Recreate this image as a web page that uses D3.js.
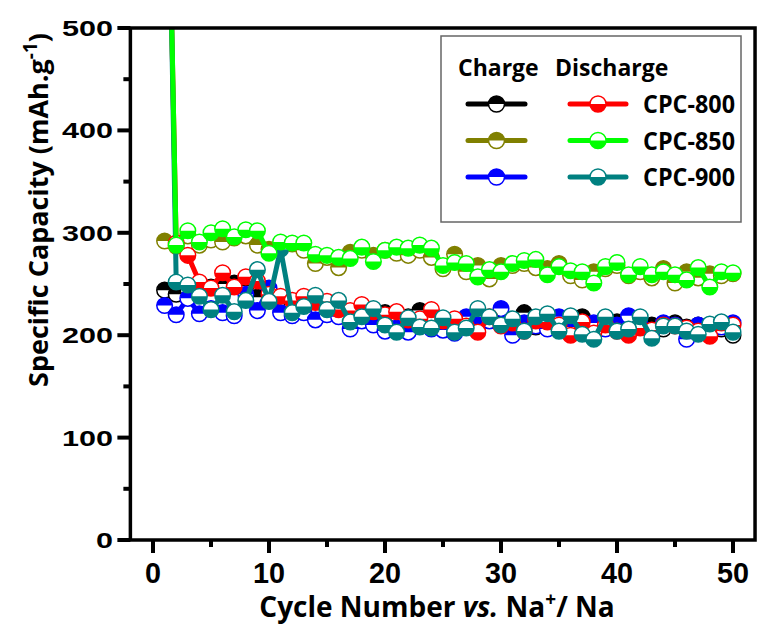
<!DOCTYPE html>
<html>
<head>
<meta charset="utf-8">
<script src="https://cdn.jsdelivr.net/npm/d3@7"></script>
<style>
  body { margin: 0; background: #fff; }
  svg { display: block; }
</style>
</head>
<body>
<svg id="chart" width="763" height="628"></svg>
<script>
// cycle numbers 1..50
const cycles = d3.range(1, 51);

const charge800 = [244, 240, 245, 248, 247, 250, 251, 248, 237, 243, 235, 230, 232, 229, 226, 224, 222, 225, 222, 222,
  220, 218, 224, 220, 215, 212, 214, 210, 216, 212, 215, 222, 208, 214, 210, 213, 218, 207, 214, 213,
  216, 208, 210, 206, 212, 208, 210, 204, 206, 200];
const discharge800 = [840, 290, 278, 252, 246, 261, 247, 257, 253, 240, 238, 234, 238, 232, 233, 225, 224, 230, 223, 220,
  223, 215, 216, 225, 214, 216, 209, 203, 218, 209, 212, 204, 214, 213, 210, 200, 213, 202, 210, 204,
  200, 207, 205, 210, 209, 207, 204, 199, 212, 210];
const charge850 = [292, 287, 297, 288, 293, 291, 295, 297, 288, 284, 286, 289, 283, 270, 276, 266, 281, 283, 278, 283,
  280, 278, 283, 276, 265, 279, 262, 268, 255, 268, 268, 270, 266, 265, 270, 258, 254, 262, 265, 268,
  258, 262, 256, 265, 251, 262, 256, 260, 258, 260];
const discharge850 = [850, 288, 302, 291, 300, 304, 296, 303, 302, 280, 291, 290, 290, 279, 278, 276, 275, 286, 272, 283,
  286, 285, 288, 285, 268, 271, 270, 257, 264, 262, 270, 273, 274, 259, 267, 263, 262, 251, 267, 271,
  259, 267, 259, 262, 259, 254, 266, 247, 262, 261];
const charge900 = [229, 220, 236, 221, 226, 222, 219, 240, 224, 246, 222, 219, 222, 215, 220, 218, 206, 214, 210, 204,
  207, 203, 210, 206, 205, 202, 218, 210, 214, 226, 200, 212, 209, 206, 218, 208, 204, 212, 206, 210,
  219, 210, 203, 212, 210, 196, 210, 205, 208, 212];
const discharge900 = [880, 252, 249, 238, 225, 239, 223, 234, 264, 233, 284, 222, 228, 239, 225, 234, 213, 218, 226, 210,
  203, 217, 208, 207, 217, 203, 207, 226, 218, 210, 216, 204, 218, 221, 204, 219, 201, 196, 218, 204,
  206, 218, 197, 209, 209, 204, 201, 211, 213, 203];

const xTicks = [0, 10, 20, 30, 40, 50];
const yTicks = [0, 100, 200, 300, 400, 500];
const sampleNames = ['CPC-800', 'CPC-850', 'CPC-900'];

// drawing order follows the original (later series sit on top)
const series = [
  { name: 'CPC-800', kind: 'charge', color: '#000000', values: charge800 },
  { name: 'CPC-900', kind: 'charge', color: '#0000ff', values: charge900 },
  { name: 'CPC-850', kind: 'charge', color: '#808000', values: charge850 },
  { name: 'CPC-800', kind: 'discharge', color: '#ff0000', values: discharge800 },
  { name: 'CPC-900', kind: 'discharge', color: '#008080', values: discharge900 },
  { name: 'CPC-850', kind: 'discharge', color: '#00ff00', values: discharge850 }
];

const svg = d3.select('#chart');
const x = d3.scaleLinear().domain([0, 50]).range([153, 733]);
const y = d3.scaleLinear().domain([0, 500]).range([540, 28]);
const x0 = x(-1.95), x1 = x(51.9), y0 = y(0), y1 = y(500);
const R = 7.8;

svg.append('defs').append('clipPath').attr('id', 'plot-clip')
  .append('rect')
  .attr('x', x0).attr('y', y1)
  .attr('width', x1 - x0).attr('height', y0 - y1);

// half filled circle: charge = top filled, discharge = bottom filled
function marker (g, cx, cy, color, kind, r) {
  const top = `M${cx - r},${cy} A${r},${r} 0 0 1 ${cx + r},${cy} Z`;
  const bottom = `M${cx - r},${cy} A${r},${r} 0 0 0 ${cx + r},${cy} Z`;
  g.append('circle').attr('cx', cx).attr('cy', cy).attr('r', r).style('fill', '#fff');
  g.append('path').attr('d', kind === 'charge' ? top : bottom).style('fill', color);
  g.append('circle').attr('cx', cx).attr('cy', cy).attr('r', r)
    .style('fill', 'none').style('stroke', color).style('stroke-width', 1.5);
}

const plot = svg.append('g').attr('clip-path', 'url(#plot-clip)');
const line = d3.line().x((d, i) => x(cycles[i])).y(d => y(d));

series.forEach(s => {
  const g = plot.append('g');
  g.append('path')
    .attr('d', line(s.values))
    .style('fill', 'none')
    .style('stroke', s.color)
    .style('stroke-width', 5)
    .style('stroke-linejoin', 'round');
  s.values.forEach((v, i) => marker(g, x(cycles[i]), y(v), s.color, s.kind, R));
});

// frame
svg.append('rect')
  .attr('x', x0).attr('y', y1)
  .attr('width', x1 - x0).attr('height', y0 - y1)
  .style('fill', 'none').style('stroke', '#000').style('stroke-width', 3.5);

// x axis ticks
const xAxis = svg.append('g');
d3.range(0, 51, 5).forEach(t => {
  const major = t % 10 === 0;
  xAxis.append('line')
    .attr('x1', x(t)).attr('x2', x(t))
    .attr('y1', y0).attr('y2', y0 + (major ? 13 : 7))
    .style('stroke', '#000').style('stroke-width', 4);
});
xAxis.selectAll('text.tick').data(xTicks).join('text')
  .attr('class', 'tick')
  .attr('x', d => x(d)).attr('y', 583)
  .attr('text-anchor', 'middle')
  .attr('textLength', d => String(d).length * 16)
  .attr('lengthAdjust', 'spacingAndGlyphs')
  .style('font-family', '"Liberation Sans", Arial, sans-serif')
  .style('font-weight', 'bold').style('font-size', '29px')
  .text(d => d);

// y axis ticks
const yAxis = svg.append('g');
d3.range(0, 501, 50).forEach(t => {
  const major = t % 100 === 0;
  yAxis.append('line')
    .attr('x1', x0).attr('x2', x0 - (major ? 13 : 7))
    .attr('y1', y(t)).attr('y2', y(t))
    .style('stroke', '#000').style('stroke-width', 4);
});
yAxis.selectAll('text.tick').data(yTicks).join('text')
  .attr('class', 'tick')
  .attr('x', 113).attr('y', d => y(d) + 8)
  .attr('text-anchor', 'end')
  .attr('textLength', d => String(d).length * 17)
  .attr('lengthAdjust', 'spacingAndGlyphs')
  .style('font-family', '"Liberation Sans", Arial, sans-serif')
  .style('font-weight', 'bold').style('font-size', '22px')
  .text(d => d);

// axis titles
const titleFont = '"Open Sans", "Noto Sans", sans-serif';
const xt = svg.append('text')
  .attr('x', 437).attr('y', 617)
  .attr('text-anchor', 'middle')
  .style('font-family', titleFont).style('font-weight', 'bold').style('font-size', '28px');
xt.append('tspan').text('Cycle Number ');
xt.append('tspan').style('font-style', 'italic').text('vs.');
xt.append('tspan').text(' Na');
xt.append('tspan').attr('dy', -11).style('font-size', '19px').text('+');
xt.append('tspan').attr('dy', 11).text('/ Na');

const yt = svg.append('text')
  .attr('transform', 'translate(48,210) rotate(-90)')
  .attr('text-anchor', 'middle')
  .style('font-family', titleFont).style('font-weight', 'bold').style('font-size', '27px');
yt.append('tspan').text('Specific Capacity (mAh.g');
yt.append('tspan').attr('dy', -11).style('font-size', '19px').text('-1');
yt.append('tspan').attr('dy', 11).text(')');

// legend
const legend = svg.append('g');
legend.append('rect')
  .attr('x', 441).attr('y', 36).attr('width', 300).attr('height', 186)
  .style('fill', '#fff').style('stroke', '#666').style('stroke-width', 1.5);
legend.append('text').attr('x', 458).attr('y', 76).text('Charge')
  .style('font-family', titleFont).style('font-weight', 'bold').style('font-size', '23px');
legend.append('text').attr('x', 555).attr('y', 76).text('Discharge')
  .style('font-family', titleFont).style('font-weight', 'bold').style('font-size', '23px');

const rowY = d3.scalePoint().domain(sampleNames).range([104, 177]);
sampleNames.forEach(name => {
  const cy = rowY(name);
  [['charge', 468, 525], ['discharge', 570, 626]].forEach(([kind, lx1, lx2]) => {
    const s = series.find(d => d.name === name && d.kind === kind);
    const g = legend.append('g');
    g.append('line')
      .attr('x1', lx1).attr('x2', lx2).attr('y1', cy).attr('y2', cy)
      .style('stroke', s.color).style('stroke-width', 5).style('stroke-linecap', 'round');
    marker(g, (lx1 + lx2) / 2, cy, s.color, kind, 8);
  });
  legend.append('text').attr('x', 643).attr('y', cy + 9).text(name)
    .attr('textLength', 92).attr('lengthAdjust', 'spacingAndGlyphs')
    .style('font-family', titleFont).style('font-weight', 'bold').style('font-size', '25px');
});
</script>
</body>
</html>
